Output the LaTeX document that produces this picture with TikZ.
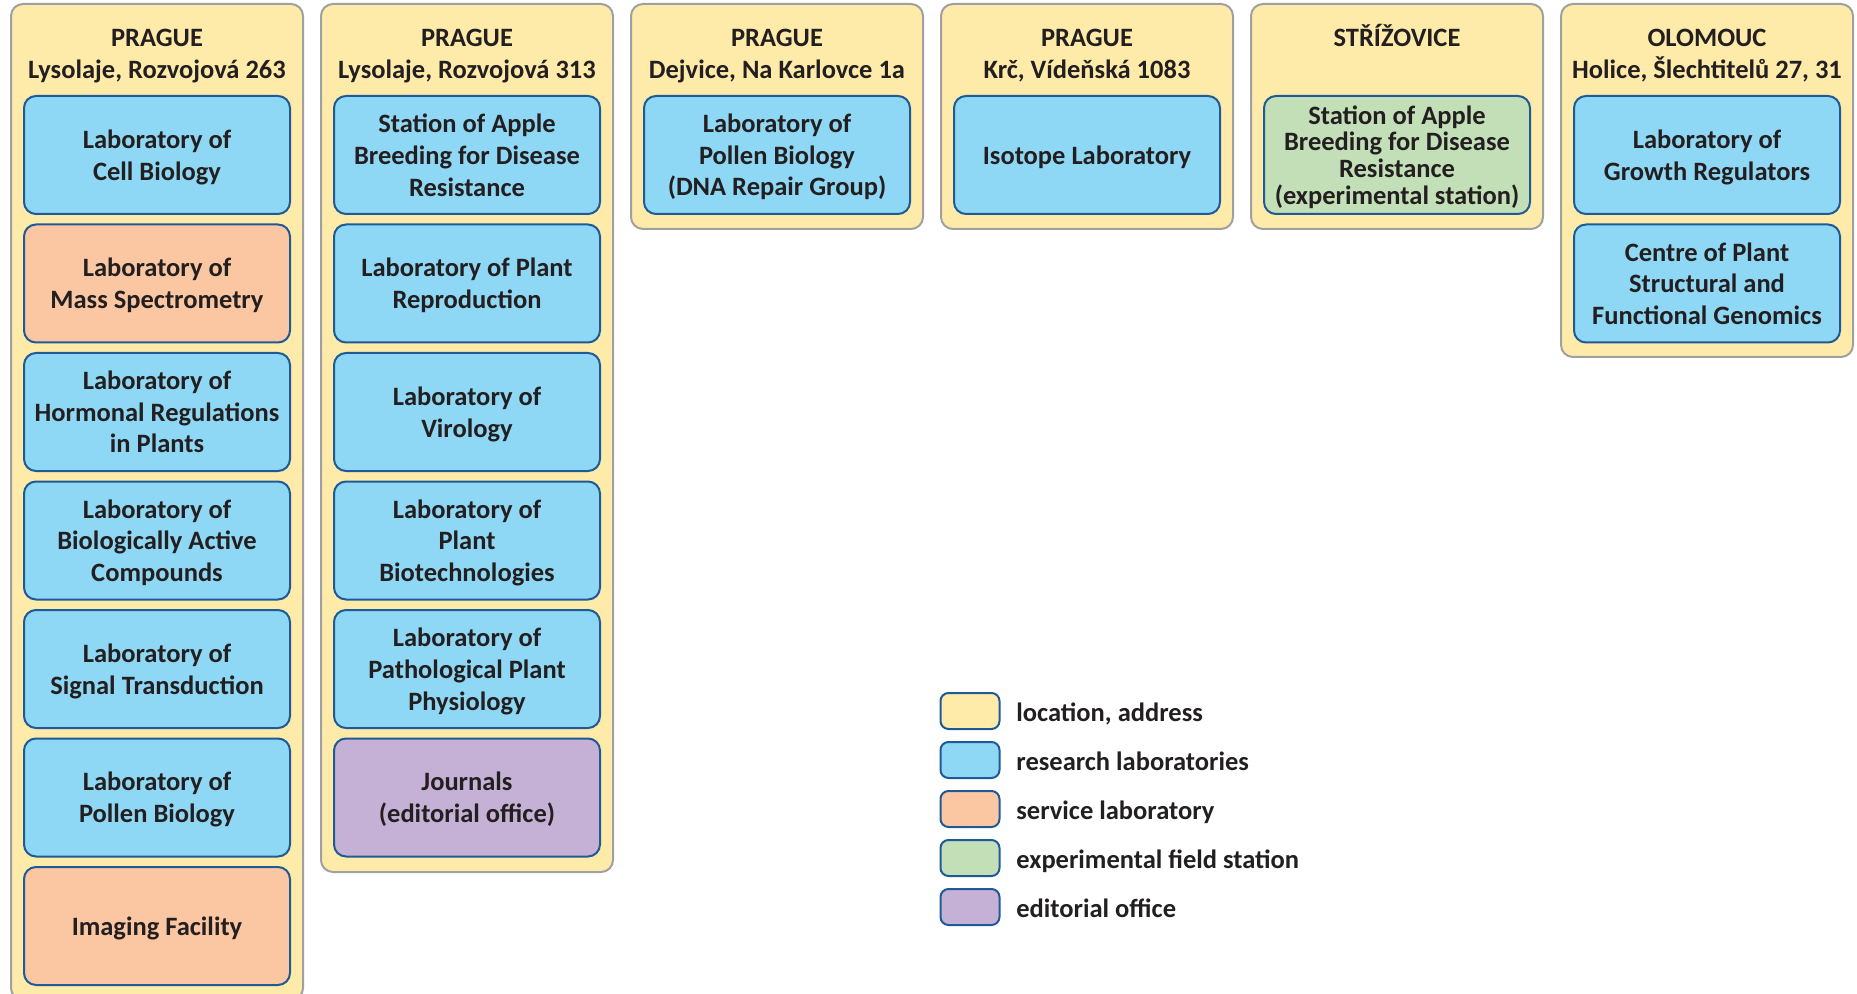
\documentclass[tikz,border=0pt]{standalone}
\usepackage{fontspec}
\setmainfont{Carlito}
\definecolor{locfill}{HTML}{FFEBA9}
\definecolor{locline}{HTML}{A0A0A0}
\definecolor{resfill}{HTML}{8ED8F5}
\definecolor{servfill}{HTML}{FBC7A2}
\definecolor{fieldfill}{HTML}{C3DFB8}
\definecolor{editfill}{HTML}{C6B1D6}
\definecolor{unitline}{HTML}{1F5A96}
\definecolor{txt}{HTML}{231F20}
\begin{document}
\begin{tikzpicture}[x=0.5pt,y=-0.5pt,
every node/.style={font=\bfseries\fontsize{13.25}{15.85}\selectfont,text=txt},
loc/.style={draw=locline,fill=locfill,line width=1pt,rounded corners=6pt,minimum width=146pt,inner sep=0pt},
unit/.style={draw=unitline,line width=1pt,rounded corners=6pt,minimum width=133pt,minimum height=59pt,
  align=center,inner sep=0pt,text depth=-1pt},
research/.style={unit,fill=resfill},
service/.style={unit,fill=servfill},
field/.style={unit,fill=fieldfill,font=\bfseries\fontsize{13.25}{13.4}\selectfont},
editorial/.style={unit,fill=editfill},
head/.style={align=center,inner sep=0pt,text depth=0pt},
key/.style={draw=unitline,line width=1pt,rounded corners=4pt,minimum width=29.5pt,minimum height=18pt,inner sep=0pt},
keytext/.style={anchor=base west,inner sep=0pt}
]
\useasboundingbox (0,0) rectangle (1857,994);
% locations
\node[loc,minimum height=498pt] (lysolaje1) at (157,502) {};
\node[loc,minimum height=434pt] (lysolaje2) at (467,438) {};
\node[loc,minimum height=112.5pt] (dejvice) at (777,116.5) {};
\node[loc,minimum height=112.5pt] (krc) at (1087,116.5) {};
\node[loc,minimum height=112.5pt] (strizovice) at (1397,116.5) {};
\node[loc,minimum height=176.5pt] (olomouc) at (1707,180.5) {};
\node[head] (h1) at (157,53.8) {PRAGUE\\Lysolaje, Rozvojová 263};
\node[head] (h2) at (467,53.8) {PRAGUE\\Lysolaje, Rozvojová 313};
\node[head] (h3) at (777,53.8) {PRAGUE\\Dejvice, Na Karlovce 1a};
\node[head] (h4) at (1087,53.8) {PRAGUE\\Krč, Vídeňská 1083};
\node[head,anchor=base] (h5) at (1397,46.5) {STŘÍŽOVICE};
\node[head] (h6) at (1707,53.8) {OLOMOUC\\Holice, Šlechtitelů 27, 31};
% Lysolaje, Rozvojova 263
\node[research] (cell) at (157,155) {Laboratory of\\Cell Biology};
\node[service] (mass) at (157,283.5) {Laboratory of\\Mass Spectrometry};
\node[research] (hormon) at (157,412) {Laboratory of\\Hormonal Regulations\\in Plants};
\node[research] (bioactive) at (157,540.5) {Laboratory of\\Biologically Active\\Compounds};
\node[research] (signal) at (157,669) {Laboratory of\\Signal Transduction};
\node[research] (pollen) at (157,797.5) {Laboratory of\\Pollen Biology};
\node[service] (imaging) at (157,926) {Imaging Facility};
% Lysolaje, Rozvojova 313
\node[research] (apple) at (467,155) {Station of Apple\\Breeding for Disease\\Resistance};
\node[research] (reprod) at (467,283.5) {Laboratory of Plant\\Reproduction};
\node[research] (virology) at (467,412) {Laboratory of\\Virology};
\node[research] (biotech) at (467,540.5) {Laboratory of\\Plant\\Biotechnologies};
\node[research] (patho) at (467,669) {Laboratory of\\Pathological Plant\\Physiology};
\node[editorial] (journals) at (467,797.5) {Journals\\(editorial office)};
% other sites
\node[research] (dna) at (777,155) {Laboratory of\\Pollen Biology\\(DNA Repair Group)};
\node[research] (isotope) at (1087,155) {Isotope Laboratory};
\node[field] (applefield) at (1397,155) {Station of Apple\\Breeding for Disease\\Resistance\\(experimental station)};
\node[research] (growth) at (1707,155) {Laboratory of\\Growth Regulators};
\node[research] (genomics) at (1707,283.5) {Centre of Plant\\Structural and\\Functional Genomics};
% legend
\node[key,fill=locfill] (k1) at (970,711) {};
\node[key,fill=resfill] (k2) at (970,760) {};
\node[key,fill=servfill] (k3) at (970,809) {};
\node[key,fill=fieldfill] (k4) at (970,858) {};
\node[key,fill=editfill] (k5) at (970,907) {};
\node[keytext] (t1) at (1016,721) {location, address};
\node[keytext] (t2) at (1016,770) {research laboratories};
\node[keytext] (t3) at (1016,819) {service laboratory};
\node[keytext] (t4) at (1016,868) {experimental field station};
\node[keytext] (t5) at (1016,917) {editorial office};
\end{tikzpicture}
\end{document}
